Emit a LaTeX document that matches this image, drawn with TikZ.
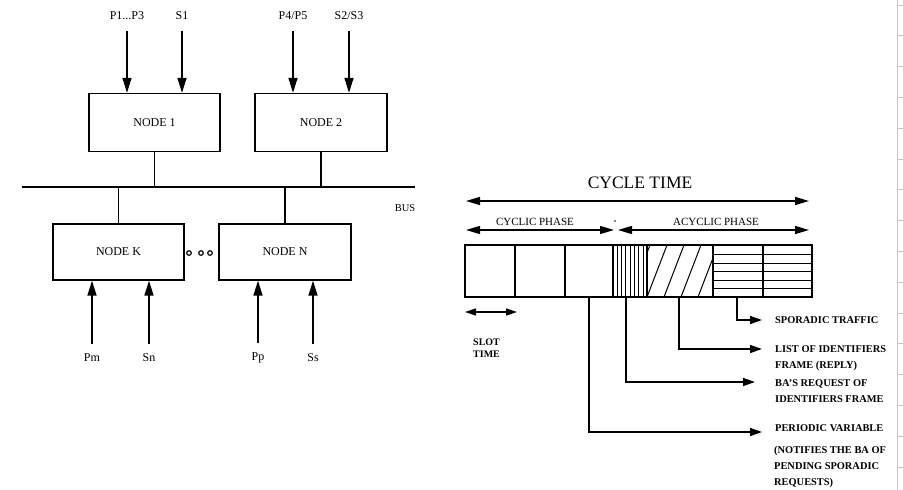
\documentclass[tikz,border=0pt]{standalone}
\usepackage{fontspec}
\setmainfont{Liberation Serif}
\usetikzlibrary{arrows.meta,positioning}

\begin{document}
\begin{tikzpicture}[x=1pt, y=-1pt,
    box/.style={draw, line width=1.3pt, minimum width=131pt, minimum height=58pt,
      inner sep=0pt, font=\fontsize{12}{14}\selectfont},
    sig/.style={line width=1.5pt, -{Triangle[length=15pt,width=9pt]}},
    lbl/.style={font=\fontsize{12}{14}\selectfont, inner sep=1pt},
    wire/.style={line width=1.3pt},
    span/.style={line width=1.5pt,
      {Triangle[length=14pt,width=8pt]}-{Triangle[length=14pt,width=8pt]}},
    callout/.style={line width=1.4pt, -{Triangle[length=12pt,width=8pt]}},
    phase/.style={font=\fontsize{11}{13}\selectfont, inner sep=0pt},
    note/.style={font=\bfseries\fontsize{10.4}{16.3}\selectfont, inner sep=0pt,
      anchor=base west, align=left},
    cell/.style={line width=1.2pt}]

    \useasboundingbox (0,0) rectangle (903,490);

    % Nodes on the bus
    \node[box] (n1) at (154.5,122.5) {NODE 1};
    \node[box, minimum width=132pt] (n2) at (321,122.5) {NODE 2};
    \node[box, minimum height=56pt] (nk) at (118.5,252) {NODE K};
    \node[box, minimum width=132pt, minimum height=56pt] (nn) at (285,252) {NODE N};

    % Inputs from above
    \node[lbl] (p13) at (127,16) {P1...P3};
    \node[lbl] (s1) at (182,16) {S1};
    \node[lbl] (p45) at (293,16) {P4/P5};
    \node[lbl] (s23) at (349,16) {S2/S3};
    \foreach \src/\dst in {p13/n1, s1/n1, p45/n2, s23/n2}
      \draw[sig, shorten <=10pt] (\src) -- (\src |- \dst.north);

    % Inputs from below
    \node[lbl] (pm) at (92,358) {Pm};
    \node[lbl] (sn) at (149,358) {Sn};
    \node[lbl] (pp) at (258,358) {Pp};
    \node[lbl] (ss) at (313,358) {Ss};
    \foreach \src/\dst in {pm/nk, sn/nk, pp/nn, ss/nn}
      \draw[sig, shorten <=9pt] (\src) -- (\src |- \dst.south);

    % Bus
    \coordinate (busL) at (22,187);
    \coordinate (busR) at (415,187);
    \draw[wire] (busL) -- (busR);
    \node[lbl, font=\fontsize{10.5}{12}\selectfont] (bus) at (405,208) {BUS};
    \foreach \n in {n1, n2}
      \draw[wire] (\n.south) -- (\n.south |- busL);
    \foreach \n in {nk, nn}
      \draw[wire] (\n.north) -- (\n.north |- busL);

    % more nodes
    \foreach \x in {189,201,210}
      \draw[line width=1.2pt] (\x,253) circle (2.3pt);

    % Cycle time
    \node[font=\fontsize{17.5}{20}\selectfont] (cyc) at (640,183) {CYCLE TIME};
    \draw[span] (466,201) -- (809,201);
    \node[phase] (cph) at (535,222) {CYCLIC PHASE};
    \node[phase] (aph) at (716,222) {ACYCLIC PHASE};
    \draw[span] (466,230) -- (614,230);
    \draw[span] (618,230) -- (809,230);
    \fill (615,221) circle (0.9pt);

    % Frame strip
    \draw[cell] (465,245) rectangle (812,297);
    \foreach \x in {515,565,613,647,713,763}
      \draw[cell] (\x,245) -- (\x,297);
    \foreach \k in {1,...,7}
      \draw[line width=0.9pt] ({613+4.3*\k},245) -- ({613+4.3*\k},297);
    \begin{scope}
      \clip (647,245) rectangle (713,297);
      \foreach \x in {630,647,664,681,698}
        \draw[line width=1pt] (\x,297) -- ++(20,-52);
    \end{scope}
    \foreach \y in {254,263,271,280,288}
      \draw[line width=1pt] (713,\y) -- (812,\y);

    % Slot time
    \draw[span, {Triangle[length=11pt,width=7pt]}-{Triangle[length=11pt,width=7pt]}]
      (465,312) -- (517,312);
    \node[note, font=\bfseries\fontsize{10}{12.5}\selectfont] (slot) at (473,357.5)
      {SLOT\\TIME};

    % Callouts
    \coordinate (cSpo) at (737,297);  \coordinate (eSpo) at (762,320);
    \coordinate (cList) at (679,297); \coordinate (eList) at (762,349);
    \coordinate (cBA) at (626,297);   \coordinate (eBA) at (755,382);
    \coordinate (cPer) at (589,297);  \coordinate (ePer) at (762,432);
    \foreach \c/\e in {cSpo/eSpo, cList/eList, cBA/eBA, cPer/ePer}
      \draw[callout] (\c) |- (\e);

    \node[note] (tSpo) at (775,323.7) {SPORADIC TRAFFIC};
    \node[note] (tList) at (775,368.7) {LIST OF IDENTIFIERS\\FRAME (REPLY)};
    \node[note] (tBA) at (775,402.7) {BA'S REQUEST OF\\IDENTIFIERS FRAME};
    \node[note] (tPer) at (775,431.7) {PERIODIC VARIABLE};
    \node[note] (tNote) at (774,485.7)
      {(NOTIFIES THE BA OF\\PENDING SPORADIC\\REQUESTS)};

    % Ruler at the right edge
    \draw[gray!45, line width=1pt] (897,0) -- (897,490);
    \foreach \k in {0,...,15}
      \draw[gray!45, line width=0.8pt] (897,{5+30.8*\k}) -- (903,{5+30.8*\k});
  \end{tikzpicture}
\end{document}
